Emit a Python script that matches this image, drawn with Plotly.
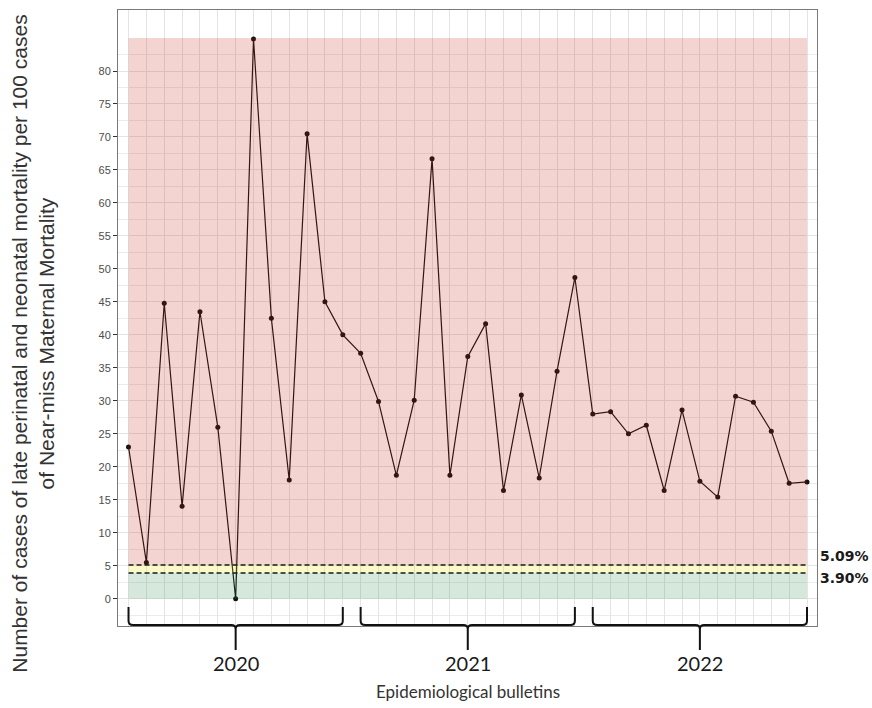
import plotly.graph_objects as go

# ---- data ----
bulletin_index = list(range(1, 40))
values = [23.0, 5.5, 44.8, 14.0, 43.5, 26.0, 0.0, 84.85, 42.5, 18.0, 70.5, 45.0, 40.0,
          37.2, 29.9, 18.7, 30.1, 66.7, 18.7, 36.7, 41.7, 16.4, 30.9, 18.3, 34.5, 48.7,
          28.0, 28.35, 25.0, 26.3, 16.4, 28.6, 17.8, 15.4, 30.7, 29.8, 25.4, 17.5, 17.7]
years = ["2020", "2021", "2022"]
year_start = [1, 14, 27]
year_end = [13, 26, 39]
upper_threshold = 5.09
lower_threshold = 3.90
zone_top = 85
threshold_labels = ["5.09%", "3.90%"]
y_ticks = list(range(0, 81, 5))
y_minor = [v + 2.5 for v in range(-5, 85, 5)]

fig = go.Figure()

fig.add_trace(go.Scatter(
    x=bulletin_index, y=values, mode="lines+markers",
    line=dict(color="#111111", width=1.2),
    marker=dict(color="#111111", size=5),
    showlegend=False, hoverinfo="skip"))

x0, x1 = bulletin_index[0], bulletin_index[-1]
# coloured zones
fig.add_shape(type="rect", xref="x", yref="y", x0=x0, x1=x1, y0=upper_threshold, y1=zone_top,
              fillcolor="rgba(200,40,25,0.2)", line=dict(width=0), layer="above")
fig.add_shape(type="rect", xref="x", yref="y", x0=x0, x1=x1, y0=lower_threshold, y1=upper_threshold,
              fillcolor="rgba(232,232,10,0.22)", line=dict(width=0), layer="above")
fig.add_shape(type="rect", xref="x", yref="y", x0=x0, x1=x1, y0=0, y1=lower_threshold,
              fillcolor="rgba(45,140,75,0.2)", line=dict(width=0), layer="above")
for th in (upper_threshold, lower_threshold):
    fig.add_shape(type="line", xref="x", yref="y", x0=x0, x1=x1, y0=th, y1=th,
                  line=dict(color="#1a1a1a", width=1.5, dash="5px,3px"), layer="above")

# braces below the plot
yA, yH, yT = 0.031, 0.0015, -0.039
rx, ry = 0.25, 0.007
for yr, s, e in zip(years, year_start, year_end):
    c = (s + e) / 2
    path = (f"M {s},{yA} L {s},{yH+ry} Q {s},{yH} {s+rx},{yH} L {c-rx},{yH} "
            f"Q {c},{yH} {c},{yH-ry} L {c},{yT} "
            f"M {c},{yH-ry} Q {c},{yH} {c+rx},{yH} L {e-rx},{yH} Q {e},{yH} {e},{yH+ry} L {e},{yA}")
    fig.add_shape(type="path", xref="x", yref="paper", path=path,
                  line=dict(color="#111111", width=2), layer="above")
    fig.add_annotation(x=c, xref="x", y=-0.060, yref="paper", text=yr, showarrow=False,
                       xanchor="center", yanchor="middle",
                       font=dict(family="Lato, Open Sans, sans-serif", size=20, color="#1a1a1a"))

fig.add_annotation(x=0.5, xref="paper", y=-0.107, yref="paper", text="Epidemiological bulletins",
                   showarrow=False, xanchor="center", yanchor="middle",
                   font=dict(family="Lato, Open Sans, sans-serif", size=17, color="#333333"))

fig.add_annotation(x=-0.122, xref="paper", y=0.4578, yref="paper",
                   text="Number of cases of late perinatal and neonatal mortality per 100 cases<br>of Near-miss Maternal Mortality",
                   showarrow=False, textangle=-90, xanchor="center", yanchor="middle", align="center",
                   font=dict(family="Liberation Sans, Arial, sans-serif", size=21, color="#333333"))

for lbl, yp in zip(threshold_labels, [0.1136, 0.0779]):
    fig.add_annotation(x=1.002, xref="paper", y=yp, yref="paper", text=f"<b>{lbl}</b>",
                       showarrow=False, xanchor="left", yanchor="middle",
                       font=dict(family="DejaVu Sans, sans-serif", size=14, color="#1a1a1a"))

fig.update_layout(
    width=872, height=708,
    margin=dict(l=118, r=55, t=10, b=82),
    paper_bgcolor="white", plot_bgcolor="white",
    xaxis=dict(range=[0.41, 39.56], tickmode="array", tickvals=bulletin_index,
               showticklabels=False, ticks="", showgrid=True, gridcolor="#e4e4e4", gridwidth=1,
               zeroline=False, showline=True, linecolor="#7a7a7a", linewidth=1, mirror=True),
    yaxis=dict(range=[-4.14, 89.25], tickmode="array", tickvals=y_ticks,
               ticks="outside", ticklen=4, tickcolor="#333333", tickwidth=1,
               tickfont=dict(family="Liberation Sans, Arial, sans-serif", size=11, color="#4d4d4d"),
               showgrid=True, gridcolor="#e4e4e4", gridwidth=1,
               minor=dict(tickmode="array", tickvals=y_minor, showgrid=True,
                          gridcolor="#ececec", gridwidth=1, ticks=""),
               zeroline=False, showline=True, linecolor="#7a7a7a", linewidth=1, mirror=True),
)

fig.write_html("out.html")
